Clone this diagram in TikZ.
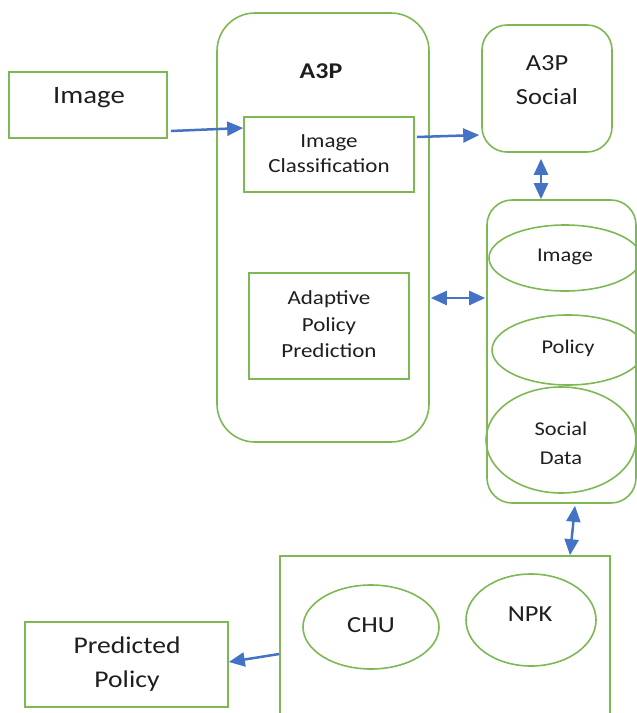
\documentclass[tikz,border=0pt]{standalone}
\usepackage{fontspec}
\setmainfont{Carlito}[FakeStretch=1.15]
\usetikzlibrary{arrows.meta,shapes.geometric}
\definecolor{grn}{HTML}{7DB855}
\definecolor{blu}{HTML}{4472C4}
\definecolor{txt}{HTML}{1E1E1E}
\begin{document}
\begin{tikzpicture}[x=1pt,y=-1pt,
  box/.style={draw=grn,line width=1.6pt,rectangle,inner sep=0pt,fill=none},
  rbox/.style={box,rounded corners=#1},
  oval/.style={draw=grn,line width=1.6pt,ellipse,inner sep=0pt},
  lbl/.style={text=txt,align=center,inner sep=0pt},
  tip/.tip={Triangle[length=16pt,width=14pt]},
  arr/.style={draw=blu,line width=2.5pt,-tip},
  darr/.style={draw=blu,line width=2.5pt,tip-tip}
]
\useasboundingbox (0,0) rectangle (637,713);
% shapes
\node[box,minimum width=158pt,minimum height=66pt] (img) at (88,105) {};
\node[rbox=38pt,minimum width=212pt,minimum height=429pt] (a3p) at (323,227.5) {};
\node[box,minimum width=170pt,minimum height=75pt] (ic) at (329,154.5) {};
\node[box,minimum width=160pt,minimum height=106pt] (app) at (329,326) {};
\node[rbox=25pt,minimum width=130pt,minimum height=127pt] (soc) at (547,88.5) {};
\node[rbox=25pt,minimum width=149pt,minimum height=303pt] (db) at (561.5,351.5) {};
\node[oval,minimum width=152pt,minimum height=66pt] (e1) at (565,258) {};
\node[oval,minimum width=152pt,minimum height=70pt] (e2) at (568,350) {};
\node[oval,minimum width=150pt,minimum height=106pt] (e3) at (561,440) {};
\node[box,minimum width=330pt,minimum height=169pt] (bot) at (445,640.5) {};
\node[oval,minimum width=136pt,minimum height=84pt] (chu) at (371,627) {};
\node[oval,minimum width=130pt,minimum height=92pt] (npk) at (531,620) {};
\node[box,minimum width=203pt,minimum height=85pt] (pp) at (126.5,664.5) {};
% texts
\node[lbl,font=\fontsize{25}{30}\selectfont] (timg) at (89,98) {Image};
\node[lbl,font=\fontsize{22.5}{27}\selectfont\bfseries] (ta3p) at (321,71) {A3P};
\node[lbl,font=\fontsize{20}{25}\selectfont] (tic) at (329,153.5) {Image\\Classification};
\node[lbl,font=\fontsize{20}{26.5}\selectfont] (tapp) at (329,324.5) {Adaptive\\Policy\\Prediction};
\node[lbl,font=\fontsize{23}{34}\selectfont] (tsoc) at (547,80) {A3P\\Social};
\node[lbl,font=\fontsize{19.5}{24}\selectfont] (te1) at (565,257) {Image};
\node[lbl,font=\fontsize{19.5}{24}\selectfont] (te2) at (568,348) {Policy};
\node[lbl,font=\fontsize{19.5}{29}\selectfont] (te3) at (561,443.5) {Social\\Data};
\node[lbl,font=\fontsize{23}{28}\selectfont] (tchu) at (371,625) {CHU};
\node[lbl,font=\fontsize{23}{28}\selectfont] (tnpk) at (530,614) {NPK};
\node[lbl,font=\fontsize{24}{34}\selectfont] (tpp) at (127,664) {Predicted\\Policy};
% connectors
\draw[arr] ([xshift=3pt,yshift=-26pt]img.east) -- ([yshift=26.5pt]ic.west);
\draw[arr] ([xshift=2pt,yshift=17.5pt]ic.east) -- ([xshift=-2pt,yshift=-46.5pt]soc.west);
\draw[darr] ([xshift=-6pt,yshift=-6pt]soc.south) -- ([xshift=-20.5pt]db.north);
\draw[darr] ([xshift=1pt,yshift=-70.5pt]a3p.east) -- ([xshift=-1pt,yshift=53.5pt]db.west);
\draw[darr] ([xshift=13.5pt,yshift=-2pt]db.south) -- ([xshift=125pt]bot.north);
\draw[arr] ([yshift=-13.5pt]bot.west) -- ([yshift=2.5pt]pp.east);
\end{tikzpicture}
\end{document}
